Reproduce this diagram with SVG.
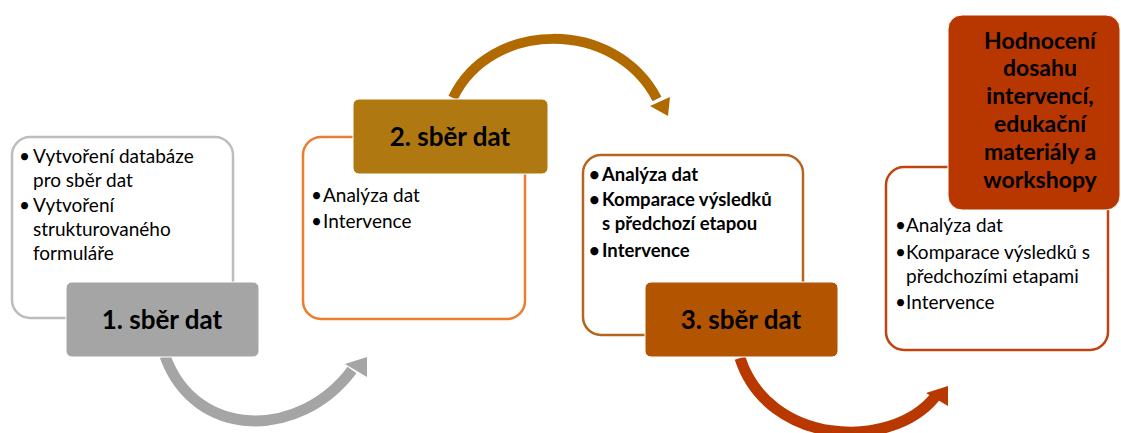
<svg xmlns="http://www.w3.org/2000/svg" width="1121" height="433" viewBox="0 0 1121 433">
<style>
text{font-family:Lato,"Liberation Sans",sans-serif;fill:#000}
.t{font-size:19px}
.tb{font-size:18.5px;font-weight:bold}
.lbl{font-size:26px;font-weight:bold;text-anchor:middle}
.ttl{font-size:23px;font-weight:bold;text-anchor:middle}
.outline{fill:#fff;stroke-width:2.5}
</style>
<rect width="1121" height="433" fill="#fff"/>
<g id="connectors">
<path d="M165 356 C195 440 300 440 352 370" fill="none" stroke="#A5A5A5" stroke-width="11"/>
<polygon points="367,357 345,364 367,377" fill="#A5A5A5"/>
<path d="M453 98 C490 20 615 18 657 99" fill="none" stroke="#B06A00" stroke-width="10"/>
<polygon points="650,106 670,97 668,116" fill="#B06A00"/>
<path d="M740 358 C768 445 890 452 935 397" fill="none" stroke="#B83800" stroke-width="11"/>
<polygon points="948,386 926,393 948,406" fill="#B83800"/>
</g>
<g id="node1">
<rect class="outline" x="12" y="137" width="221" height="181" rx="18" stroke="#BDBDBD"/>
<text class="t" x="19" y="163">•<tspan x="33">Vytvoření databáze</tspan></text>
<text class="t" x="33" y="187">pro sběr dat</text>
<text class="t" x="19" y="212">•<tspan x="33">Vytvoření</tspan></text>
<text class="t" x="33" y="236">strukturovaného</text>
<text class="t" x="33" y="260">formuláře</text>
<rect x="66" y="282" width="193" height="75" rx="6" fill="#A5A5A5" stroke="#fff" stroke-width="1"/>
<text class="lbl" x="162" y="329">1. sběr dat</text>
</g>
<g id="node2">
<rect class="outline" x="303" y="137" width="222" height="182" rx="18" stroke="#ED7D31"/>
<rect x="353" y="99" width="195" height="75" rx="6" fill="#AF7810" stroke="#fff" stroke-width="1"/>
<text class="lbl" x="450" y="146">2. sběr dat</text>
<text class="t" x="311" y="202">•<tspan x="323">Analýza dat</tspan></text>
<text class="t" x="311" y="228">•<tspan x="323">Intervence</tspan></text>
</g>
<g id="node3">
<rect class="outline" x="583" y="155" width="220" height="180" rx="18" stroke="#B5651D"/>
<text class="tb" x="589" y="181">•<tspan x="602">Analýza dat</tspan></text>
<text class="tb" x="589" y="206">•<tspan x="602">Komparace výsledků</tspan></text>
<text class="tb" x="602" y="230">s předchozí etapou</text>
<text class="tb" x="589" y="257">•<tspan x="602">Intervence</tspan></text>
<rect x="645" y="282" width="193" height="75" rx="6" fill="#B35400" stroke="#fff" stroke-width="1"/>
<text class="lbl" x="741" y="329">3. sběr dat</text>
</g>
<g id="node4">
<rect class="outline" x="886" y="167" width="222" height="183" rx="18" stroke="#C0440F"/>
<rect x="948" y="15" width="172" height="195" rx="14" fill="#B83600" stroke="#fff" stroke-width="1"/>
<text class="ttl" x="1040" y="49">Hodnocení</text>
<text class="ttl" x="1040" y="76">dosahu</text>
<text class="ttl" x="1040" y="104">intervencí,</text>
<text class="ttl" x="1040" y="132">edukační</text>
<text class="ttl" x="1040" y="160">materiály a</text>
<text class="ttl" x="1040" y="188">workshopy</text>
<text class="t" x="895" y="232">•<tspan x="906">Analýza dat</tspan></text>
<text class="t" x="895" y="259">•<tspan x="906">Komparace výsledků s</tspan></text>
<text class="t" x="906" y="283">předchozími etapami</text>
<text class="t" x="895" y="309">•<tspan x="906">Intervence</tspan></text>
</g>
</svg>
